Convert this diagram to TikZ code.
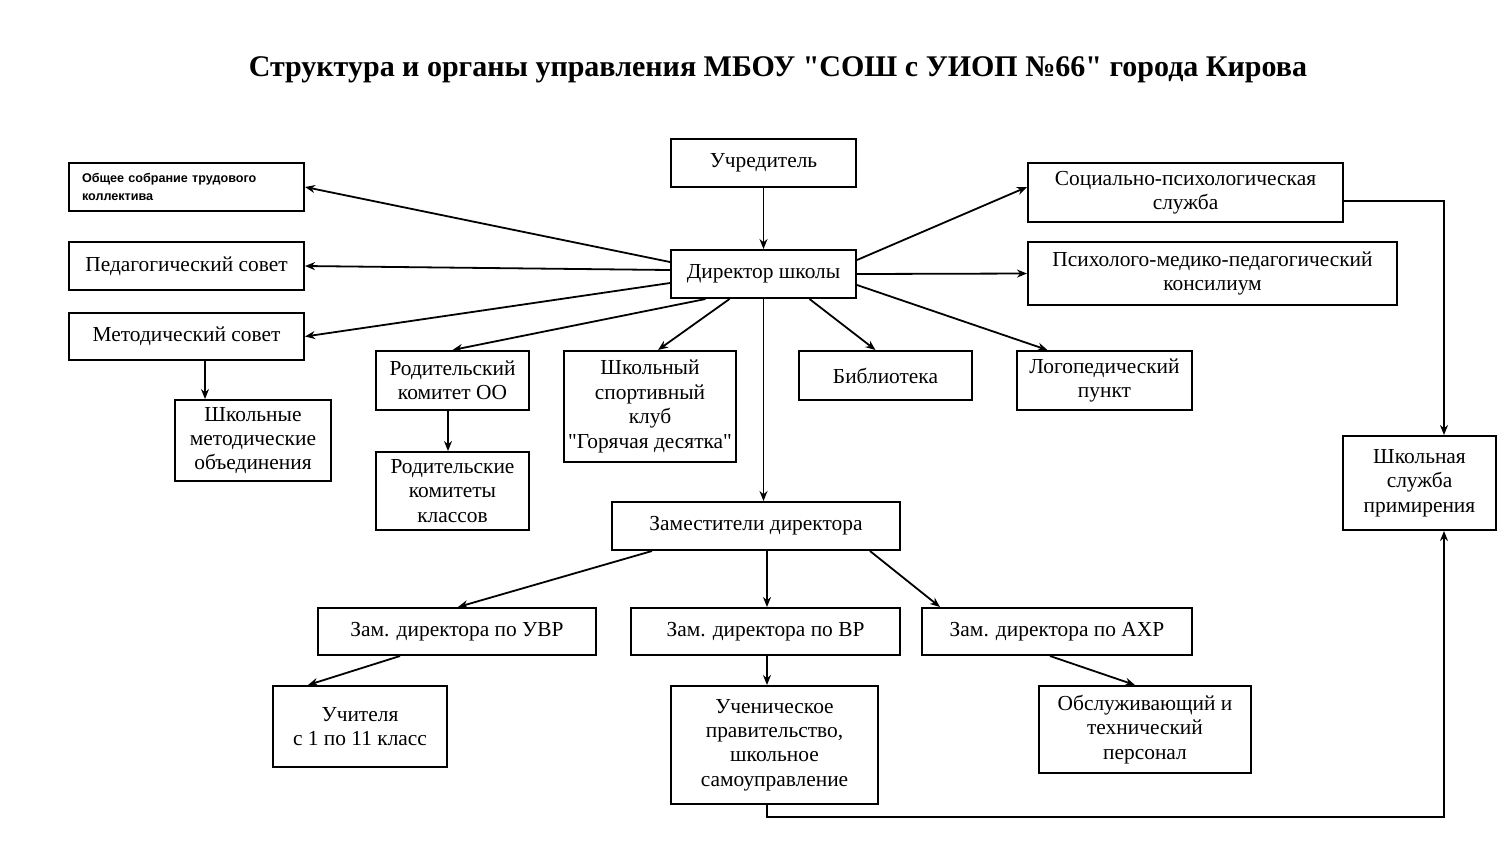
\documentclass[tikz,border=0pt]{standalone}
\usepackage{fontspec}
\setmainfont{Liberation Serif}[Ligatures=TeXOff]
\newfontfamily\smallsans{Liberation Sans}
\usetikzlibrary{arrows.meta}
\newcommand\bodyfs{\fontsize{10.7}{12.2}\selectfont}
\tikzset{
  box/.style={draw, line width=1pt, align=center, inner sep=2pt, font=\bodyfs},
  arr/.style={-{Stealth[length=5pt,width=4pt]}, line width=0.9pt}
}
\begin{document}
\begin{tikzpicture}[x=0.5pt,y=-0.5pt]
\fill[white] (0,0) rectangle (1500,859);
\useasboundingbox (0,0) rectangle (1500,859);

\node[font=\fontsize{15}{18}\selectfont\bfseries] (title) at (778,70)
  {Структура и органы управления МБОУ "СОШ с УИОП №66" города Кирова};

% left column
\node[box, minimum width=117.5pt, minimum height=24pt, text width=104.5pt, inner xsep=6.5pt, align=left,
      font=\smallsans\bfseries\fontsize{6.3}{9}\selectfont] (obsh) at (186.5,187)
  {Общее собрание трудового\\коллектива};
\node[box, minimum width=117.5pt, minimum height=24pt] (ped) at (186.5,266) {Педагогический совет};
\node[box, minimum width=117.5pt, minimum height=23.5pt] (met) at (186.5,336.5) {Методический совет};
\node[box, minimum width=78pt, minimum height=40.5pt] (shmo) at (253,440.5) {Школьные\\методические\\объединения};

% centre
\node[box, minimum width=92.5pt, minimum height=24pt] (uchr) at (763.5,163) {Учредитель};
\node[box, minimum width=92.5pt, minimum height=24pt] (dir) at (763.5,274) {Директор школы};

% right
\node[box, minimum width=157.5pt, minimum height=29.5pt] (soc) at (1185.5,192.5) {Социально-психологическая\\служба};
\node[box, minimum width=184.5pt, minimum height=31.5pt] (ppk) at (1212.5,273.5) {Психолого-медико-педагогический\\консилиум};

% middle row
\node[box, minimum width=76.5pt, minimum height=29.5pt] (rko) at (452.5,380.5) {Родительский\\комитет ОО};
\node[box, minimum width=86pt, minimum height=55.5pt] (sport) at (650,406.5) {Школьный\\спортивный\\клуб\\"Горячая десятка"};
\node[box, minimum width=86.5pt, minimum height=24.5pt] (bib) at (885.5,375.5) {Библиотека};
\node[box, minimum width=87.5pt, minimum height=29.5pt] (logo) at (1104.5,380.5) {Логопедический\\пункт};
\node[box, minimum width=76.5pt, minimum height=39pt] (rkk) at (452.5,491) {Родительские\\комитеты\\классов};
\node[box, minimum width=76.5pt, minimum height=47pt] (ssp) at (1419.5,483) {Школьная\\служба\\примирения};

% deputies
\node[box, minimum width=144pt, minimum height=24pt] (zam) at (756,526) {Заместители директора};
\node[box, minimum width=139pt, minimum height=23.5pt] (uvr) at (457,631.5) {Зам. директора по УВР};
\node[box, minimum width=134.5pt, minimum height=23.5pt] (vr) at (765.5,631.5) {Зам. директора по ВР};
\node[box, minimum width=135pt, minimum height=23.5pt] (ahr) at (1057,631.5) {Зам. директора по АХР};

% bottom
\node[box, minimum width=87pt, minimum height=40.5pt] (uch) at (360,726.5) {Учителя\\с 1 по 11 класс};
\node[box, minimum width=103.5pt, minimum height=59pt] (ucen) at (774.5,745) {Ученическое\\правительство,\\школьное\\самоуправление};
\node[box, minimum width=106pt, minimum height=43.5pt] (obs) at (1145,729.5) {Обслуживающий и\\технический\\персонал};

% connectors
\draw[arr] (uchr.south) -- (dir.north);
\draw[arr] ([yshift=6pt]dir.west) -- (obsh.east);
\draw[arr] ([yshift=2pt]dir.west) -- (ped.east);
\draw[arr] ([yshift=-4.5pt]dir.west) -- (met.east);
\draw[arr] ([xshift=-29pt]dir.south) -- (rko.north);
\draw[arr] ([xshift=-17pt]dir.south) -- ([xshift=4pt]sport.north);
\draw[arr] (dir.south) -- (dir.south |- zam.north);
\draw[arr] ([xshift=23pt]dir.south) -- ([xshift=-5pt]bib.north);
\draw[arr] ([yshift=-5.5pt]dir.east) -- ([xshift=-28.5pt]logo.north);
\draw[arr] (dir.east) -- (ppk.west);
\draw[arr] ([yshift=7pt]dir.east) -- ([yshift=2.75pt]soc.west);

\draw[arr] ([xshift=9.25pt]met.south) -- ([xshift=9.25pt]met.south |- shmo.north);
\draw[arr] ([xshift=-2.25pt]rko.south) -- ([xshift=-2.25pt]rko.south |- rkk.north);

\coordinate (c1) at (1444,201);
\draw[arr] ([yshift=-4.25pt]soc.east) -- (c1) -- ([xshift=12.25pt]ssp.north);
\coordinate (c2) at (1444,817);
\draw[arr] ([xshift=-3.75pt]ucen.south) |- (c2) -- ([xshift=12.25pt]ssp.south);

\draw[arr] ([xshift=-52pt]zam.south) -- ([xshift=0.5pt]uvr.north);
\draw[arr] ([xshift=5.5pt]zam.south) -- ([xshift=5.5pt]zam.south |- vr.north);
\draw[arr] ([xshift=57pt]zam.south) -- ([xshift=-58.5pt]ahr.north);

\draw[arr] ([xshift=-28.5pt]uvr.south) -- ([xshift=-26pt]uch.north);
\draw[arr] ([xshift=0.75pt]vr.south) -- ([xshift=0.75pt]vr.south |- ucen.north);
\draw[arr] ([xshift=-3.5pt]ahr.south) -- ([xshift=-5pt]obs.north);
\end{tikzpicture}
\end{document}
